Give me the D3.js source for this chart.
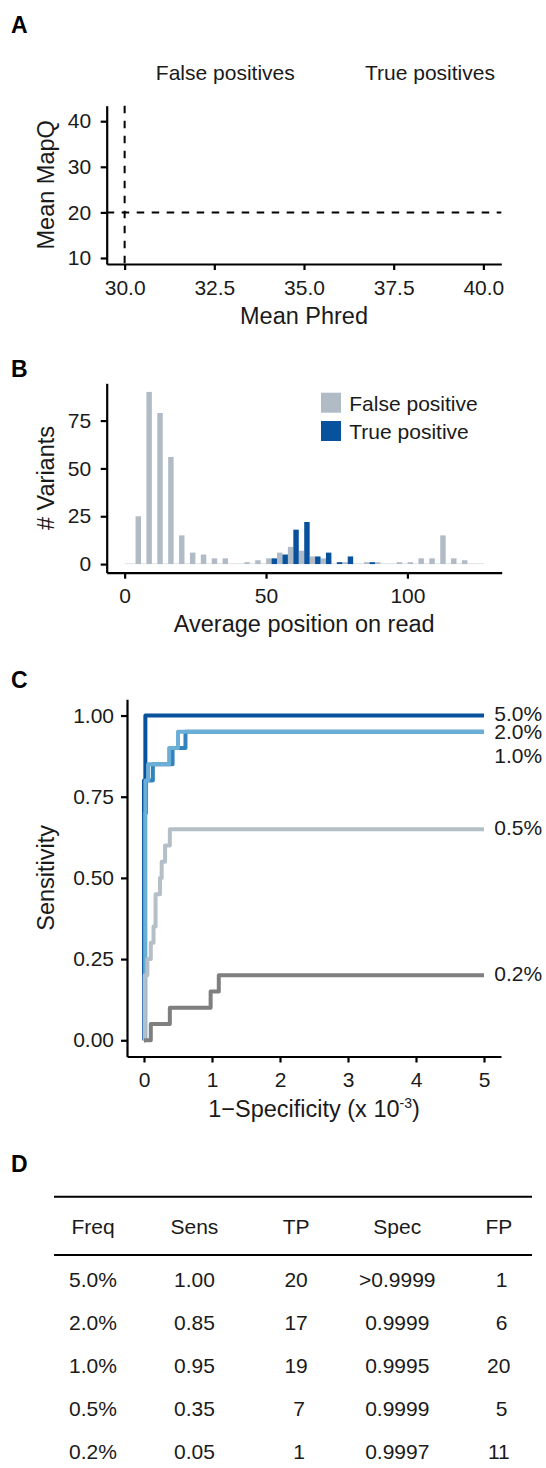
<!DOCTYPE html>
<html>
<head>
<meta charset="utf-8">
<script src="https://cdn.jsdelivr.net/npm/d3@7"></script>
<style>
  html, body { margin: 0; padding: 0; background: #fff; }
  svg { display: block; font-family: "Liberation Sans", Arial, Helvetica, sans-serif; }
  text { fill: #1a1a1a; }
</style>
</head>
<body>
<svg id="fig" width="546" height="1468"></svg>
<script>
const svg = d3.select("#fig");

// ---------- data ----------
// A: mean Phred vs mean MapQ (only the cut-off lines are drawn)
const phredTicks = [30, 32.5, 35, 37.5, 40];
const mapqTicks = [10, 20, 30, 40];
const facetNames = ["False positives", "True positives"];
const phredCut = 30;
const mapqCut = 20;

// B: histogram of average position on read
const binStart = [0, 3.85, 7.7, 11.55, 15.39, 19.24, 23.09, 26.94, 30.79, 34.64, 38.48,
  42.33, 46.18, 50.03, 53.88, 57.73, 61.58, 65.42, 69.27, 73.12, 76.97, 80.82, 84.67,
  88.52, 92.36, 96.21, 100.06, 103.91, 107.76, 111.61, 115.45, 119.3, 123.15];
const binWidth = 3.85;
const fpCounts = [0, 25, 90, 79, 56, 15, 6, 5, 3, 3, 0, 1, 2, 3, 6, 9, 7, 4, 3, 0, 1, 0, 1, 1, 0, 1, 1, 3, 3, 15, 3, 2, 0];
const tpCounts = [0, 0, 0, 0, 0, 0, 0, 0, 0, 0, 0, 0, 0, 3, 5, 18, 22, 4, 6, 1, 4, 0, 1, 0, 0, 0, 0, 0, 0, 0, 0, 0, 0];
const posTicks = [0, 50, 100];
const countTicks = [0, 25, 50, 75];
const groupNames = ["False positive", "True positive"];

// C: ROC curves per allele frequency
const freqNames = ["5.0%", "2.0%", "1.0%", "0.5%", "0.2%"];
const rocFpr = [
  [0, 0.0, 0.02, 5],
  [0, 0.01, 0.03, 0.13, 0.42, 0.61, 5],
  [0, 0.02, 0.06, 0.37, 0.50, 5],
  [0, 0.01, 0.05, 0.10, 0.14, 0.17, 0.235, 0.26, 0.31, 0.38, 5],
  [0, 0.10, 0.38, 0.98, 1.10, 5]
];
const rocTpr = [
  [0, 0.80, 1.00, 1.00],
  [0, 0.70, 0.80, 0.85, 0.90, 0.95, 0.95],
  [0, 0.80, 0.85, 0.90, 0.95, 0.95],
  [0, 0.20, 0.25, 0.30, 0.35, 0.45, 0.50, 0.55, 0.60, 0.65, 0.65],
  [0, 0.05, 0.10, 0.15, 0.20, 0.20]
];
const labelSens = [1.007, 0.95, 0.878, 0.655, 0.205];
const fprTicks = [0, 1, 2, 3, 4, 5];
const sensTicks = [0, 0.25, 0.5, 0.75, 1];

// D: summary table
const tableHeader = ["Freq", "Sens", "TP", "Spec", "FP"];
const tableFreq = ["5.0%", "2.0%", "1.0%", "0.5%", "0.2%"];
const tableSens = [1.00, 0.85, 0.95, 0.35, 0.05];
const tableTP = [20, 17, 19, 7, 1];
const tableSpec = [">0.9999", "0.9999", "0.9995", "0.9999", "0.9997"];
const tableFP = [1, 6, 20, 5, 11];

// ---------- style ----------
const fpColor = "#b0bbc5";
const tpColor = "#08519c";
const rocColors = ["#08519c", "#3182bd", "#6baed6", "#b4bfc8", "#7f7f7f"];
const tickFont = 21;
const titleFont = 23.5;

const pA = { left: 106.7, right: 501.3, top: 105.7, bottom: 264 };
const pB = { left: 106.7, right: 501.7, top: 383.3, bottom: 572.7 };
const pC = { left: 127, right: 501, top: 699.3, bottom: 1056.5 };

function drawAxes(p, x, y, xTicks, yTicks, xFmt, yFmt, yPad) {
  svg.append("g")
    .attr("transform", `translate(0,${p.bottom})`)
    .call(d3.axisBottom(x).tickValues(xTicks).tickFormat(xFmt)
      .tickSize(6).tickSizeOuter(0).tickPadding(9.6))
    .call(g => g.attr("font-size", tickFont).attr("font-family", null))
    .call(g => g.selectAll("path, line").attr("stroke", "#000").attr("stroke-width", 2.2));

  svg.append("g")
    .attr("transform", `translate(${p.left},0)`)
    .call(d3.axisLeft(y).tickValues(yTicks).tickFormat(yFmt)
      .tickSize(6).tickSizeOuter(0).tickPadding(yPad))
    .call(g => g.attr("font-size", tickFont).attr("font-family", null))
    .call(g => g.selectAll("path, line").attr("stroke", "#000").attr("stroke-width", 2.2));
}

function yTitle(p, label) {
  svg.append("text")
    .attr("transform", `translate(54,${(p.top + p.bottom) / 2}) rotate(-90)`)
    .attr("text-anchor", "middle")
    .style("font-size", titleFont + "px")
    .text(label);
}

function panelLetter(letter, y) {
  svg.append("text")
    .attr("x", 11)
    .attr("y", y)
    .style("font-size", "23px")
    .style("font-weight", "bold")
    .style("fill", "#000")
    .text(letter);
}

// ---------- A ----------
panelLetter("A", 33.3);

const xA = d3.scaleLinear().domain([29.5, 40.5]).range([pA.left, pA.right]);
const yA = d3.scaleLinear().domain([8.68, 43.4]).range([pA.bottom, pA.top]);

svg.selectAll(".facet")
  .data(facetNames)
  .enter()
  .append("text")
  .attr("class", "facet")
  .attr("x", (d, i) => [225.3, 430][i])
  .attr("y", 80)
  .attr("text-anchor", "middle")
  .style("font-size", tickFont + "px")
  .text(d => d);

svg.append("line")
  .attr("x1", xA(phredCut)).attr("x2", xA(phredCut))
  .attr("y1", pA.top).attr("y2", pA.bottom)
  .attr("stroke", "#000").attr("stroke-width", 2)
  .attr("stroke-dasharray", "7.5,7.5");

svg.append("line")
  .attr("x1", pA.left).attr("x2", pA.right)
  .attr("y1", yA(mapqCut)).attr("y2", yA(mapqCut))
  .attr("stroke", "#000").attr("stroke-width", 2)
  .attr("stroke-dasharray", "7.5,7.5");

drawAxes(pA, xA, yA, phredTicks, mapqTicks, d3.format(".1f"), d3.format("d"), 9.5);

svg.append("text")
  .attr("x", (pA.left + pA.right) / 2)
  .attr("y", pA.bottom + 60)
  .attr("text-anchor", "middle")
  .style("font-size", titleFont + "px")
  .text("Mean Phred");
yTitle(pA, "Mean MapQ");

// ---------- B ----------
panelLetter("B", 376.7);

const xB = d3.scaleLinear().domain([-6.35, 133.35]).range([pB.left, pB.right]);
const yB = d3.scaleLinear().domain([-4.5, 94.5]).range([pB.bottom, pB.top]);

const bins = binStart.map((s, i) => ({ start: s, fp: fpCounts[i], tp: tpCounts[i] }));
const halfW = d => (xB(d.start + binWidth) - xB(d.start)) / 2;
const barH = v => Math.max(yB(0) - yB(v), 0.7);

svg.selectAll(".barFP")
  .data(bins)
  .enter()
  .append("rect")
  .attr("class", "barFP")
  .attr("x", d => xB(d.start))
  .attr("width", halfW)
  .attr("y", d => yB(0) - barH(d.fp))
  .attr("height", d => barH(d.fp))
  .attr("fill", fpColor)
  .attr("fill-opacity", d => d.fp === 0 ? 0.6 : 1);

svg.selectAll(".barTP")
  .data(bins)
  .enter()
  .append("rect")
  .attr("class", "barTP")
  .attr("x", d => xB(d.start) + halfW(d))
  .attr("width", halfW)
  .attr("y", d => yB(0) - barH(d.tp))
  .attr("height", d => barH(d.tp))
  .attr("fill", d => d.tp === 0 ? fpColor : tpColor)
  .attr("fill-opacity", d => d.tp === 0 ? 0.6 : 1);

drawAxes(pB, xB, yB, posTicks, countTicks, d3.format("d"), d3.format("d"), 9.5);

svg.append("text")
  .attr("x", (pB.left + pB.right) / 2)
  .attr("y", pB.bottom + 59)
  .attr("text-anchor", "middle")
  .style("font-size", titleFont + "px")
  .text("Average position on read");
yTitle(pB, "# Variants");

// Legend
const legendB = svg.append("g").attr("transform", "translate(321,392.7)");
const legItems = legendB.selectAll(".legend-item")
  .data(groupNames)
  .enter()
  .append("g")
  .attr("class", "legend-item")
  .attr("transform", (_, i) => `translate(0,${i * 28.3})`);

legItems.append("rect")
  .attr("width", 20)
  .attr("height", 20)
  .attr("fill", (_, i) => [fpColor, tpColor][i]);

legItems.append("text")
  .attr("x", 28.3)
  .attr("y", 18)
  .style("font-size", tickFont + "px")
  .text(d => d);

// ---------- C ----------
panelLetter("C", 688.3);

const xC = d3.scaleLinear().domain([-0.25, 5.25]).range([pC.left, pC.right]);
const yC = d3.scaleLinear().domain([-0.05, 1.05]).range([pC.bottom, pC.top]);

const rocLine = d3.line()
  .x(d => xC(d[0]))
  .y(d => yC(d[1]))
  .curve(d3.curveStepAfter);

svg.selectAll(".roc")
  .data(freqNames)
  .enter()
  .append("path")
  .attr("class", "roc")
  .attr("d", (_, i) => rocLine(rocFpr[i].map((f, j) => [f, rocTpr[i][j]])))
  .attr("fill", "none")
  .attr("stroke", (_, i) => rocColors[i])
  .attr("stroke-width", 4)
  .attr("stroke-linejoin", "round");

svg.selectAll(".rocLabel")
  .data(freqNames)
  .enter()
  .append("text")
  .attr("class", "rocLabel")
  .attr("x", 494.3)
  .attr("y", (_, i) => yC(labelSens[i]))
  .attr("dy", "0.36em")
  .style("font-size", tickFont + "px")
  .text(d => d);

drawAxes(pC, xC, yC, fprTicks, sensTicks, d3.format("d"), d3.format(".2f"), 7);

const xTitleC = svg.append("text")
  .attr("x", (pC.left + pC.right) / 2)
  .attr("y", pC.bottom + 60.5)
  .attr("text-anchor", "middle")
  .style("font-size", titleFont + "px");
xTitleC.append("tspan").text("1\u2212Specificity (x 10");
xTitleC.append("tspan").attr("dy", -9).style("font-size", "14px").text("-3");
xTitleC.append("tspan").attr("dy", 9).text(")");
yTitle(pC, "Sensitivity");

// ---------- D ----------
panelLetter("D", 1171.7);

const colX = [93, 194.4, 296.1, 397.3, 498.8];
const rule = [1196.7, 1255];

svg.selectAll(".rule")
  .data(rule)
  .enter()
  .append("line")
  .attr("class", "rule")
  .attr("x1", 54).attr("x2", 532)
  .attr("y1", d => d).attr("y2", d => d)
  .attr("stroke", "#000")
  .attr("stroke-width", 2);

svg.selectAll(".head")
  .data(tableHeader)
  .enter()
  .append("text")
  .attr("class", "head")
  .attr("x", (_, i) => colX[i])
  .attr("y", 1234)
  .attr("text-anchor", "middle")
  .style("font-size", tickFont + "px")
  .text(d => d);

const rows = tableFreq.map((f, i) => [
  f,
  d3.format(".2f")(tableSens[i]),
  String(tableTP[i]).padStart(2, " "),
  tableSpec[i],
  String(tableFP[i]).padStart(2, " ")
]);

const rowG = svg.selectAll(".row")
  .data(rows)
  .enter()
  .append("g")
  .attr("class", "row")
  .attr("transform", (_, i) => `translate(0,${1287.3 + i * 43})`);

rowG.selectAll("text")
  .data(d => d)
  .enter()
  .append("text")
  .attr("x", (_, j) => colX[j])
  .attr("text-anchor", "middle")
  .attr("xml:space", "preserve")
  .style("white-space", "pre")
  .style("font-size", tickFont + "px")
  .text(d => d);
</script>
</body>
</html>
